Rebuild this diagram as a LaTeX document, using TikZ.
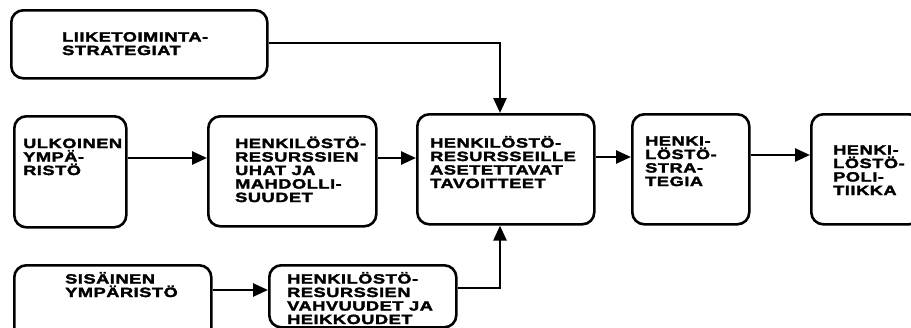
\documentclass[tikz,border=0pt]{standalone}
\usepackage{fontspec}
\newfontfamily\boxfont[FakeStretch=1.36,FakeBold=2.5,LetterSpace=4]{Liberation Sans Bold}
\usetikzlibrary{arrows.meta}
\tikzset{
  box/.style={draw=black, line width=2.6pt, rounded corners=12pt, rectangle, inner sep=0pt, anchor=north west},
  lbl/.style={inner sep=0pt, anchor=base west, align=left, font=\boxfont\fontsize{13.4}{13.5}\selectfont},
  arr/.style={line width=2.6pt, -{Triangle[length=15pt,width=13pt]}}
}
\begin{document}
\begin{tikzpicture}[x=1pt,y=-1pt]
\useasboundingbox (0,0) rectangle (911,327);
\clip (0,0) rectangle (911,327);
% boxes
\node[box, minimum width=256pt, minimum height=68pt] (liike) at (10,9) {};
\node[box, minimum width=112pt, minimum height=111pt] (ulk) at (13,115) {};
\node[box, minimum width=168pt, minimum height=110pt] (uhat) at (207,115) {};
\node[box, minimum width=177pt, minimum height=110pt] (tav) at (416,113) {};
\node[box, minimum width=117pt, minimum height=110pt] (strat) at (631,113) {};
\node[box, minimum width=110pt, minimum height=110pt] (pol) at (810,113) {};
\node[box, minimum width=197pt, minimum height=80pt] (sis) at (13,264) {};
\node[box, minimum width=187pt, minimum height=62pt] (vahv) at (268,264) {};
% texts (anchored at the baseline of the last line)
\node[lbl] (t-liike) at (62,55) {LIIKETOIMINTA-\\STRATEGIAT};
\node[lbl] (t-ulk) at (23,175) {ULKOINEN\\YMPÄ-\\RISTÖ};
\node[lbl] (t-uhat) at (235,202) {HENKILÖSTÖ-\\RESURSSIEN\\UHAT JA\\MAHDOLLI-\\SUUDET};
\node[lbl] (t-tav) at (430,188) {HENKILÖSTÖ-\\RESURSSEILLE\\ASETETTAVAT\\TAVOITTEET};
\node[lbl] (t-strat) at (645,186) {HENKI-\\LÖSTÖ-\\STRA-\\TEGIA};
\node[lbl] (t-pol) at (833,195) {HENKI-\\LÖSTÖ-\\POLI-\\TIIKKA};
\node[lbl] (t-sis) at (65,297) {SISÄINEN\\YMPÄRISTÖ};
\node[lbl] (t-vahv) at (287,324) {HENKILÖSTÖ-\\RESURSSIEN\\VAHVUUDET JA\\HEIKKOUDET};
% connectors
\coordinate (c1) at (500,43);
\coordinate (c2) at (500,288);
\draw[arr] (liike.east |- c1) -- (c1) -- (tav.north -| c1);
\draw[arr] (vahv.east |- c2) -- (c2) -- (tav.south -| c2);
\draw[arr] (ulk.east |- 0,158) -- (uhat.west |- 0,158);
\draw[arr] (uhat.east |- 0,158) -- (tav.west |- 0,158);
\draw[arr] (tav.east |- 0,157) -- (strat.west |- 0,157);
\draw[arr] (strat.east |- 0,155) -- (pol.west |- 0,155);
\draw[arr] (sis.east |- 0,290) -- (vahv.west |- 0,290);
\end{tikzpicture}
\end{document}
